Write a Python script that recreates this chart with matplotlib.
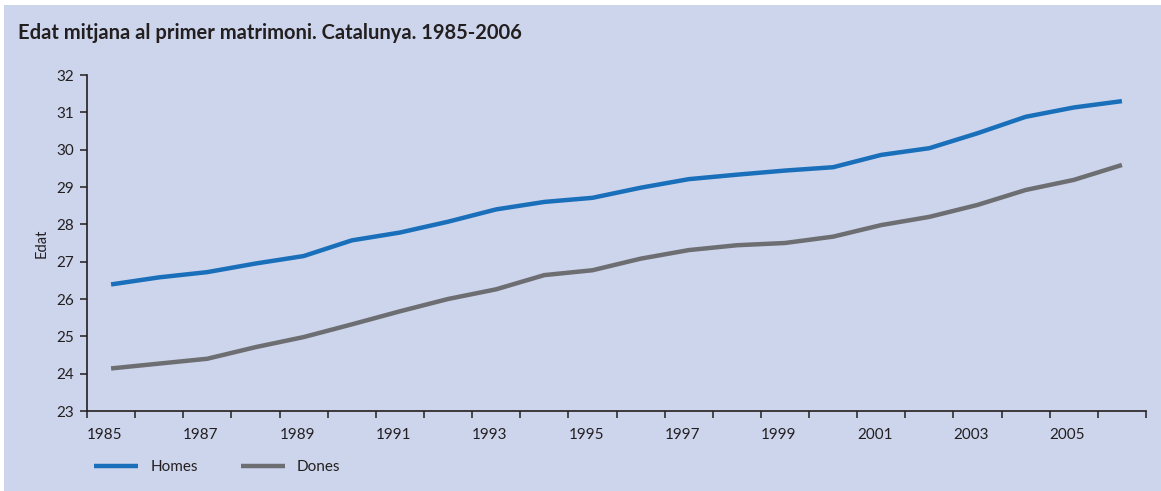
import matplotlib.pyplot as plt
import matplotlib.patches as mpatches
import numpy as np

# Edat mitjana al primer matrimoni, Catalunya
years = list(range(1985, 2007))
homes = [26.39, 26.58, 26.72, 26.95, 27.15, 27.57, 27.78, 28.07, 28.40, 28.60, 28.71,
         28.98, 29.21, 29.33, 29.44, 29.53, 29.86, 30.04, 30.44, 30.88, 31.13, 31.30]
dones = [24.14, 24.27, 24.40, 24.71, 24.98, 25.32, 25.67, 26.00, 26.26, 26.64, 26.77,
         27.08, 27.31, 27.44, 27.50, 27.67, 27.98, 28.20, 28.52, 28.92, 29.19, 29.59]

bg = '#cdd5ec'
dark = '#231f20'
plt.rcParams['font.family'] = ['Lato', 'DejaVu Sans']

fig = plt.figure(figsize=(11.61, 4.91), dpi=100, facecolor='white')
fig.patches.append(mpatches.Rectangle((4 / 1161, 0), 1, 1 - 5 / 491, transform=fig.transFigure,
                                      facecolor=bg, edgecolor='none', zorder=-10))
ax = fig.add_axes([87 / 1161, 80 / 491, (1146 - 87) / 1161, (411 - 75) / 491])
ax.set_facecolor(bg)

x = np.array(years) + 0.5
ax.plot(x, homes, color='#1a6fba', lw=3.2, solid_capstyle='butt', label='Homes')
ax.plot(x, dones, color='#6d6e71', lw=3.2, solid_capstyle='butt', label='Dones')

ax.set_xlim(1985, 2007)
ax.set_ylim(23, 32)
ax.set_yticks(range(23, 33))
ax.set_xticks(range(1985, 2008))
ax.set_xticklabels([str(y) if (y % 2 == 1 and y < 2007) else '' for y in range(1985, 2008)], ha='left')

for s in ['top', 'right']:
    ax.spines[s].set_visible(False)
for s in ['left', 'bottom']:
    ax.spines[s].set_color(dark)
    ax.spines[s].set_linewidth(1.2)
ax.tick_params(axis='both', colors=dark, labelsize=11, length=5, width=1.1)
ax.tick_params(axis='x', pad=7)
ax.tick_params(axis='y', pad=4)
ax.set_ylabel('Edat', fontsize=10.5, color=dark, labelpad=6)

fig.text(18 / 1161, 1 - 33 / 491, 'Edat mitjana al primer matrimoni. Catalunya. 1985-2006',
         fontsize=14.5, fontweight='bold', color=dark, va='center', ha='left')

fig.legend(loc='center left', bbox_to_anchor=(80 / 1161, 1 - 467 / 491), ncol=2, frameon=False,
           fontsize=11, handlelength=2.9, handletextpad=0.8, columnspacing=2.8,
           labelcolor=dark)

fig.savefig('out.png', dpi=100, facecolor='white')
